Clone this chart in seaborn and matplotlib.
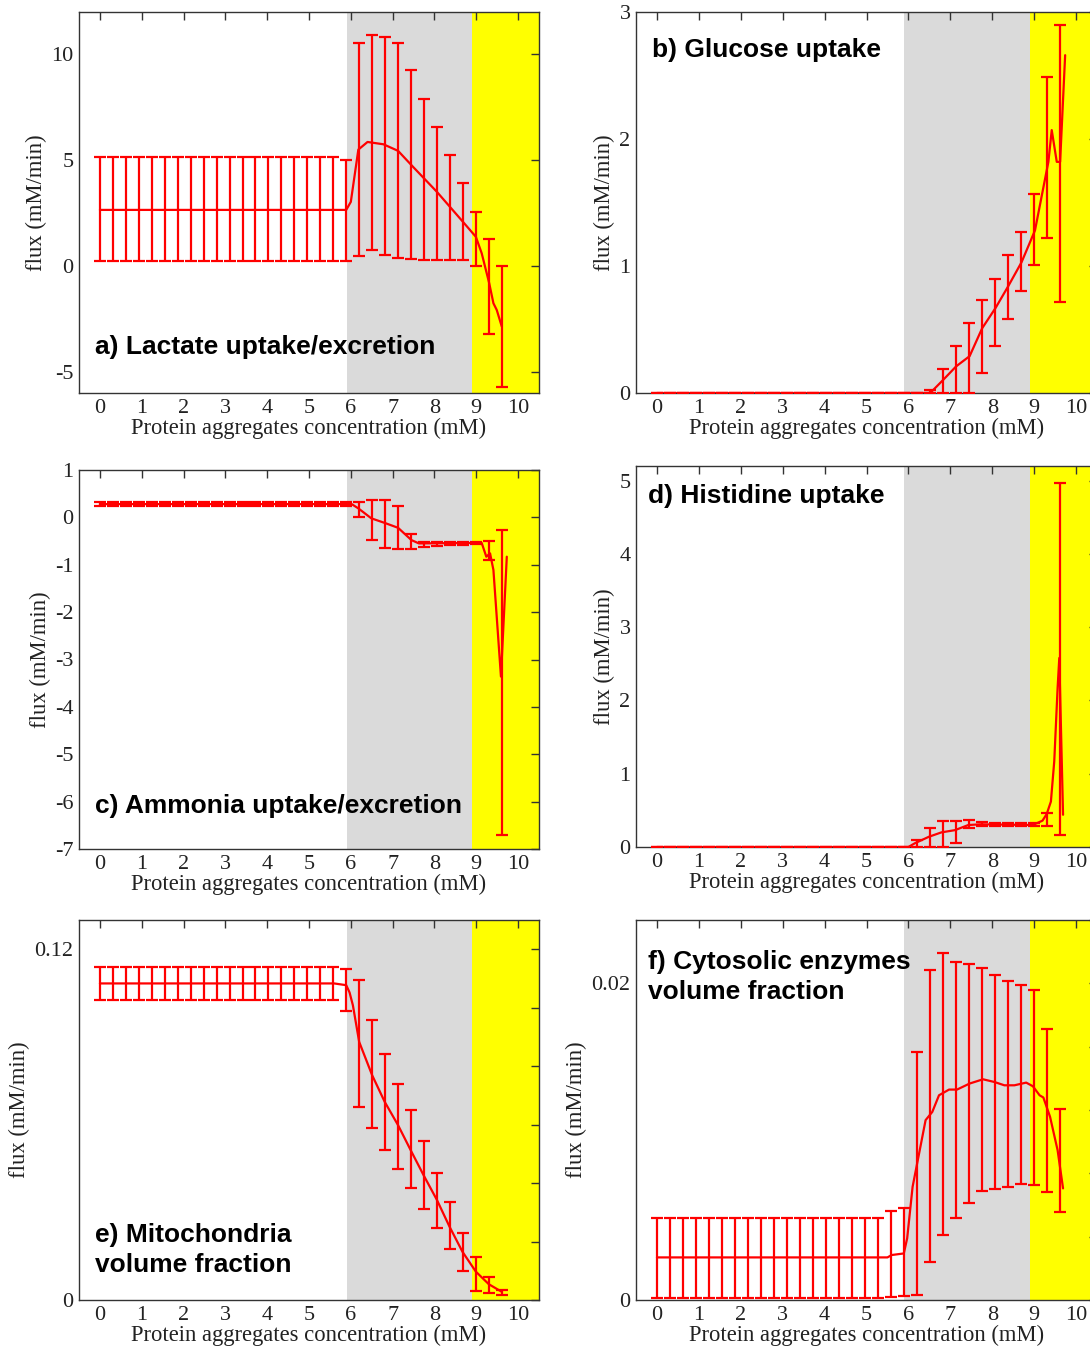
import numpy as np
import pandas as pd
import matplotlib
matplotlib.use("Agg")
import matplotlib.pyplot as plt
from matplotlib.ticker import MultipleLocator, FixedLocator
import seaborn as sns

sns.set_theme(style="white")
plt.rcParams['font.family'] = ['Liberation Serif', 'DejaVu Serif']
plt.rcParams['axes.unicode_minus'] = False

# ---------------- data ----------------
X_BARS = [0.0, 0.31, 0.62, 0.93, 1.24, 1.55, 1.86, 2.17, 2.48, 2.79, 3.10, 3.41,
          3.72, 4.03, 4.34, 4.65, 4.96, 5.27, 5.58, 5.89, 6.20, 6.51, 6.82, 7.13,
          7.44, 7.75, 8.06, 8.37, 8.68, 8.99, 9.30, 9.61]

# a) Lactate
a_low = [0.22] * 19 + [0.22, 0.47, 0.76, 0.50, 0.39, 0.31, 0.30, 0.30, 0.30, 0.30, 0.0, -3.2, -5.72]
a_high = [5.17] * 19 + [5.0, 10.52, 10.93, 10.83, 10.52, 9.28, 7.9, 6.58, 5.26, 3.92, 2.53, 1.26, 0.0]
a_lx = [0, 5.89, 6.0, 6.18, 6.4, 6.78, 7.13, 7.49, 8.06, 8.68, 8.99, 9.13, 9.31, 9.41, 9.49, 9.61]
a_ly = [2.65, 2.65, 3.03, 5.5, 5.86, 5.75, 5.44, 4.68, 3.5, 2.09, 1.38, 0.6, -0.82, -1.76, -2.08, -2.86]

# b) Glucose
b_low = [0.0] * 21 + [0.0, 0.0, 0.0, 0.0, 0.155, 0.37, 0.58, 0.80, 1.01, 1.22, 0.72]
b_high = [0.0] * 21 + [0.02, 0.19, 0.37, 0.55, 0.73, 0.90, 1.09, 1.27, 1.57, 2.49, 2.90]
b_lx = [0, 6.52, 6.82, 7.14, 7.46, 7.76, 8.08, 8.38, 8.70, 9.02, 9.34, 9.42, 9.54, 9.62, 9.74]
b_ly = [0, 0, 0.1, 0.21, 0.29, 0.51, 0.67, 0.84, 1.03, 1.28, 1.82, 2.07, 1.82, 1.82, 2.66]

# c) Ammonia
c_low = [0.24] * 20 + [0.0, -0.48, -0.65, -0.67, -0.67, -0.63, -0.61, -0.59, -0.58, -0.57, -0.91, -6.70]
c_high = [0.32] * 20 + [0.33, 0.37, 0.37, 0.25, -0.35, -0.51, -0.53, -0.51, -0.51, -0.51, -0.49, -0.27]
c_lx = [0, 6.02, 6.18, 6.49, 6.82, 7.13, 7.45, 7.63, 8.89, 9.13, 9.24, 9.33, 9.41, 9.59, 9.73]
c_ly = [0.28, 0.28, 0.19, -0.02, -0.12, -0.22, -0.48, -0.55, -0.54, -0.54, -0.83, -0.76, -1.11, -3.36, -0.83]

# d) Histidine
d_low = [0.0] * 20 + [0.0, 0.0, 0.0, 0.06, 0.26, 0.28, 0.29, 0.29, 0.29, 0.29, 0.29, 0.17]
d_high = [0.0] * 20 + [0.09, 0.26, 0.36, 0.36, 0.37, 0.34, 0.33, 0.33, 0.33, 0.33, 0.47, 4.97]
d_lx = [0, 6.0, 6.15, 6.49, 6.79, 7.11, 7.43, 7.73, 8.97, 9.2, 9.3, 9.4, 9.48, 9.56, 9.6, 9.69]
d_ly = [0, 0, 0.05, 0.14, 0.2, 0.23, 0.3, 0.31, 0.3, 0.36, 0.45, 0.62, 1.17, 2.17, 2.58, 0.44]

# e) Mitochondria volume fraction
e_low = [0.1026] * 19 + [0.0988, 0.0661, 0.0589, 0.0513, 0.0447, 0.0382, 0.0313, 0.0247,
                         0.0173, 0.0099, 0.0031, 0.0023, 0.0017]
e_high = [0.1140] * 19 + [0.1134, 0.1094, 0.0957, 0.0843, 0.0738, 0.0650, 0.0544, 0.0433,
                          0.0334, 0.0228, 0.0148, 0.0080, 0.0034]
e_lx = [0, 5.6, 5.89, 5.97, 6.05, 6.2, 6.51, 6.81, 7.13, 7.43, 7.74, 8.06, 8.36, 8.67, 8.99, 9.3, 9.61]
e_ly = [0.1083, 0.1083, 0.1077, 0.1052, 0.1008, 0.0883, 0.0769, 0.0678, 0.0598, 0.0513, 0.0427,
        0.0342, 0.0251, 0.0165, 0.0097, 0.0054, 0.0028]

# f) Cytosolic enzymes volume fraction
f_low = [0.00015] * 18 + [0.00020, 0.00025, 0.0003, 0.00242, 0.0041, 0.00516, 0.00615, 0.0069,
                          0.00699, 0.00714, 0.0073, 0.00726, 0.00684, 0.00558]
f_high = [0.00516] * 18 + [0.00565, 0.00580, 0.01565, 0.02084, 0.02194, 0.02133, 0.0212, 0.0210,
                           0.02053, 0.02015, 0.0199, 0.01958, 0.01714, 0.01207]
f_lx = [0, 5.5, 5.6, 5.89, 5.97, 6.1, 6.41, 6.57, 6.73, 6.97, 7.16, 7.46, 7.78, 8.05, 8.29, 8.53,
        8.81, 8.97, 9.13, 9.22, 9.38, 9.56, 9.69]
f_ly = [0.00269, 0.00269, 0.00284, 0.00294, 0.00389, 0.00715, 0.01136, 0.01188, 0.01293, 0.01329,
        0.01329, 0.01367, 0.01394, 0.01377, 0.01356, 0.01356, 0.01373, 0.0135, 0.01293, 0.01279,
        0.01157, 0.00946, 0.00705]

TITLES = ["a) Lactate uptake/excretion", "b) Glucose uptake", "c) Ammonia uptake/excretion",
          "d) Histidine uptake", "e) Mitochondria\nvolume fraction", "f) Cytosolic enzymes\nvolume fraction"]
XLABEL = "Protein aggregates concentration (mM)"
YLABEL = "flux (mM/min)"
GRAY_SPAN = (5.9, 8.9)
YELLOW_SPAN = (8.9, 10.5)

# ---------------- layout ----------------
W, H = 1090, 1347
fig = plt.figure(figsize=(W / 100, H / 100), dpi=100)

def box(l, t, r, b):
    return [l / W, 1 - b / H, (r - l) / W, (b - t) / H]

panels = [
    dict(rect=box(79, 12, 539, 393), low=a_low, high=a_high, lx=a_lx, ly=a_ly,
         ylim=(-6, 12), major=[-5, 0, 5, 10], minor=None, labels=None,
         title=TITLES[0], tpos=(0.035, 0.12)),
    dict(rect=box(636, 12, 1097, 393), low=b_low, high=b_high, lx=b_lx, ly=b_ly,
         ylim=(0, 3), major=[0, 1, 2, 3], minor=None, labels=None,
         title=TITLES[1], tpos=(0.035, 0.90)),
    dict(rect=box(79, 470, 539, 849), low=c_low, high=c_high, lx=c_lx, ly=c_ly,
         ylim=(-7, 1), major=[-7, -6, -5, -4, -3, -2, -1, 0, 1], minor=None, labels=None,
         title=TITLES[2], tpos=(0.035, 0.113)),
    dict(rect=box(636, 466, 1097, 847), low=d_low, high=d_high, lx=d_lx, ly=d_ly,
         ylim=(0, 5.2), major=[0, 1, 2, 3, 4, 5], minor=None, labels=None,
         title=TITLES[3], tpos=(0.025, 0.92)),
    dict(rect=box(79, 920, 539, 1300), low=e_low, high=e_high, lx=e_lx, ly=e_ly,
         ylim=(0, 0.13), major=[0, 0.12], minor=0.02, labels=["0", "0.12"],
         title=TITLES[4], tpos=(0.035, 0.132)),
    dict(rect=box(636, 920, 1097, 1300), low=f_low, high=f_high, lx=f_lx, ly=f_ly,
         ylim=(0, 0.024), major=[0, 0.02], minor=0.004, labels=["0", "0.02"],
         title=TITLES[5], tpos=(0.025, 0.85)),
]

RED = "#ff0000"
SPINE = "#333333"

for p in panels:
    ax = fig.add_axes(p["rect"])
    ax.set_facecolor("white")
    ax.axvspan(*GRAY_SPAN, color="#dadada", lw=0, zorder=0)
    ax.axvspan(*YELLOW_SPAN, color="#ffff00", lw=0, zorder=0)

    low = np.array(p["low"]); high = np.array(p["high"])
    mid = (low + high) / 2
    half = (high - low) / 2
    ax.errorbar(X_BARS, mid, yerr=half, fmt="none", ecolor=RED, elinewidth=1.6,
                capsize=4.0, capthick=1.6, zorder=3)
    df = pd.DataFrame({"x": p["lx"], "y": p["ly"]})
    sns.lineplot(data=df, x="x", y="y", sort=False, estimator=None, color=RED,
                 lw=1.6, ax=ax, zorder=4)

    ax.set_xlim(-0.5, 10.5)
    ax.set_ylim(*p["ylim"])
    ax.xaxis.set_major_locator(FixedLocator(list(range(11))))
    ax.yaxis.set_major_locator(FixedLocator(p["major"]))
    if p["labels"] is not None:
        ax.set_yticklabels(p["labels"])
    else:
        ax.set_yticklabels([("%g" % v) for v in p["major"]])
    if p["minor"]:
        ax.yaxis.set_minor_locator(MultipleLocator(p["minor"]))
    ax.tick_params(which="both", direction="in", top=True, right=True, length=6,
                   width=1.0, color=SPINE, labelsize=16, pad=4, labelcolor="#222222")
    ax.tick_params(which="minor", length=6)
    for s in ax.spines.values():
        s.set_color(SPINE); s.set_linewidth(1.0); s.set_visible(True)
    ax.set_xlabel(XLABEL, fontsize=16.3, labelpad=0, color="#222222")
    ax.set_ylabel(YLABEL, fontsize=16.3, labelpad=3, color="#222222")
    ax.text(p["tpos"][0], p["tpos"][1], p["title"], transform=ax.transAxes,
            family=["Liberation Sans", "DejaVu Sans"], fontweight="bold", fontsize=19,
            ha="left", va="center", linespacing=1.33, color="black", zorder=5)

fig.savefig("out.png", dpi=100)
